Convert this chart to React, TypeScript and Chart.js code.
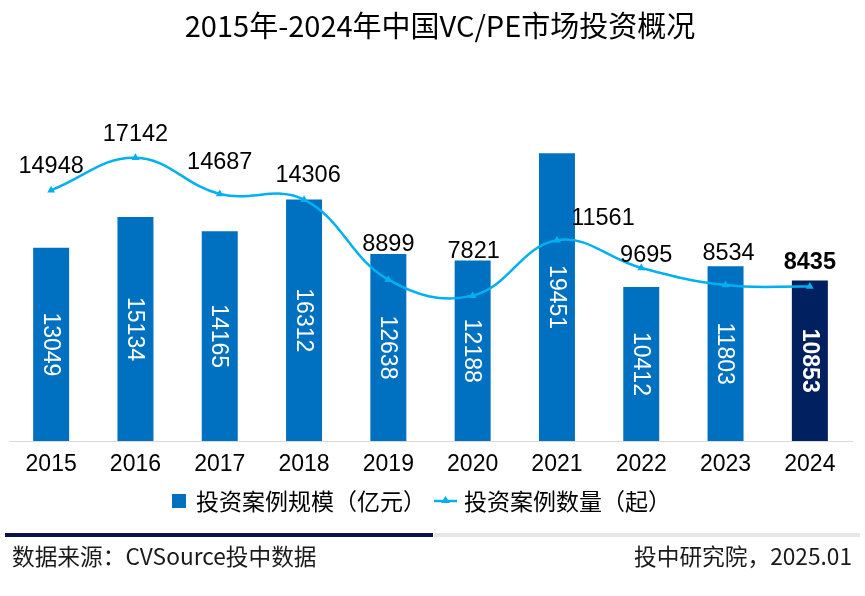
import React, { useEffect, useRef } from 'react';
import { Chart, registerables } from 'chart.js';

Chart.register(...registerables);

const years = ['2015', '2016', '2017', '2018', '2019', '2020', '2021', '2022', '2023', '2024'];
const investAmount = [13049, 15134, 14165, 16312, 12638, 12188, 19451, 10412, 11803, 10853];
const dealCount = [14948, 17142, 14687, 14306, 8899, 7821, 11561, 9695, 8534, 8435];

const titleText = '2015年-2024年中国VC/PE市场投资概况';
const barLegend = '投资案例规模（亿元）';
const lineLegend = '投资案例数量（起）';
const sourceText = '数据来源：CVSource投中数据';
const creditText = '投中研究院，2025.01';

// label nudges (dx, dy) relative to each line point, as placed in the original
const countLabelNudge: [number, number][] = [
  [0, -24], [0, -23], [0, -32], [4, -24], [0, -35], [1, -44], [46, -22], [5, -12], [3, -32], [0, -24],
];

const BAR_BLUE = '#0070C0';
const BAR_NAVY = '#002060';
const LINE_BLUE = '#00B0F0';
const NUM_FONT = '"Liberation Sans", Arial, sans-serif';
const CJK_FONT = '"Noto Sans CJK SC", "Noto Sans", sans-serif';

const decorPlugin = {
  id: 'decor',
  afterDatasetsDraw(chart: any) {
    const ctx = chart.ctx as CanvasRenderingContext2D;
    const last = years.length - 1;
    // bar value labels (rotated, inside bars)
    const barMeta = chart.getDatasetMeta(1);
    ctx.save();
    ctx.fillStyle = '#FFFFFF';
    ctx.textAlign = 'center';
    ctx.textBaseline = 'middle';
    barMeta.data.forEach((el: any, i: number) => {
      ctx.save();
      ctx.font = `${i === last ? 'bold ' : ''}23px ${NUM_FONT}`;
      ctx.translate(el.x, (el.y + el.base) / 2);
      ctx.rotate(Math.PI / 2);
      ctx.fillText(String(investAmount[i]), 0, 1);
      ctx.restore();
    });
    // line value labels
    const lineMeta = chart.getDatasetMeta(0);
    ctx.fillStyle = '#000000';
    lineMeta.data.forEach((el: any, i: number) => {
      const [dx, dy] = countLabelNudge[i];
      ctx.font = `${i === last ? 'bold ' : ''}23.5px ${NUM_FONT}`;
      ctx.fillText(String(dealCount[i]), el.x + dx, el.y + dy);
    });
    ctx.restore();
  },
  afterDraw(chart: any) {
    const ctx = chart.ctx as CanvasRenderingContext2D;
    ctx.save();
    // title
    ctx.fillStyle = '#000000';
    ctx.textAlign = 'center';
    ctx.textBaseline = 'middle';
    ctx.font = `29px ${CJK_FONT}`;
    ctx.fillText(titleText, 440, 26);

    // legend
    ctx.fillStyle = BAR_BLUE;
    ctx.fillRect(172, 494, 14, 14);
    ctx.font = `23px ${CJK_FONT}`;
    ctx.textAlign = 'left';
    ctx.fillStyle = '#000000';
    ctx.fillText(barLegend, 196, 501);
    ctx.strokeStyle = LINE_BLUE;
    ctx.lineWidth = 2.5;
    ctx.beginPath();
    ctx.moveTo(434, 501);
    ctx.lineTo(457, 501);
    ctx.stroke();
    ctx.fillStyle = LINE_BLUE;
    ctx.beginPath();
    ctx.moveTo(445.5, 496);
    ctx.lineTo(450, 503);
    ctx.lineTo(441, 503);
    ctx.closePath();
    ctx.fill();
    ctx.fillStyle = '#000000';
    ctx.fillText(lineLegend, 464, 501);

    // footer rules
    ctx.fillStyle = '#0B1150';
    ctx.fillRect(5, 533, 428, 4);
    ctx.fillStyle = '#E6E6E6';
    ctx.fillRect(434, 533, 426, 4);

    // footer texts
    ctx.fillStyle = '#1A1A1A';
    ctx.font = `22.7px ${CJK_FONT}`;
    ctx.textAlign = 'left';
    ctx.fillText(sourceText, 12, 556);
    ctx.textAlign = 'right';
    ctx.fillText(creditText, 852, 556);
    ctx.restore();
  },
};

export default function App() {
  const canvasRef = useRef<HTMLCanvasElement | null>(null);

  useEffect(() => {
    const canvas = canvasRef.current;
    if (!canvas) return;
    const last = years.length - 1;
    const chart = new Chart(canvas, {
      type: 'bar',
      data: {
        labels: years,
        datasets: [
          {
            type: 'line',
            label: lineLegend,
            data: dealCount,
            yAxisID: 'y1',
            borderColor: LINE_BLUE,
            backgroundColor: LINE_BLUE,
            borderWidth: 2.5,
            tension: 0.4,
            pointStyle: 'triangle',
            pointRadius: 4.5,
            pointBackgroundColor: LINE_BLUE,
            pointBorderColor: LINE_BLUE,
            pointBorderWidth: 0,
            order: 0,
          } as any,
          {
            type: 'bar',
            label: barLegend,
            data: investAmount,
            yAxisID: 'y',
            backgroundColor: investAmount.map((_, i) => (i === last ? BAR_NAVY : BAR_BLUE)),
            barPercentage: 0.427,
            categoryPercentage: 1,
            order: 1,
          } as any,
        ],
      },
      options: {
        responsive: false,
        animation: false,
        devicePixelRatio: 1,
        layout: { padding: { left: 9, right: 13, top: 71, bottom: 0 } },
        plugins: {
          legend: { display: false },
          title: { display: false },
          tooltip: { enabled: false },
        },
        scales: {
          x: {
            grid: { display: false, drawTicks: false },
            border: { display: true, color: '#D9D9D9', width: 1 },
            ticks: {
              color: '#000000',
              font: { family: NUM_FONT, size: 23 },
              padding: 10,
              maxRotation: 0,
              autoSkip: false,
            },
            afterFit: (scale: any) => {
              scale.height = 155;
            },
          },
          y: { display: false, min: 0, max: 25000 },
          y1: { display: false, min: -2000, max: 23000 },
        },
      } as any,
      plugins: [decorPlugin],
    });
    return () => chart.destroy();
  }, []);

  return (
    <div style={{ position: 'absolute', left: 0, top: 0, width: 865, height: 596, background: '#FFFFFF' }}>
      <canvas ref={canvasRef} width={865} height={596} style={{ display: 'block' }} />
    </div>
  );
}
